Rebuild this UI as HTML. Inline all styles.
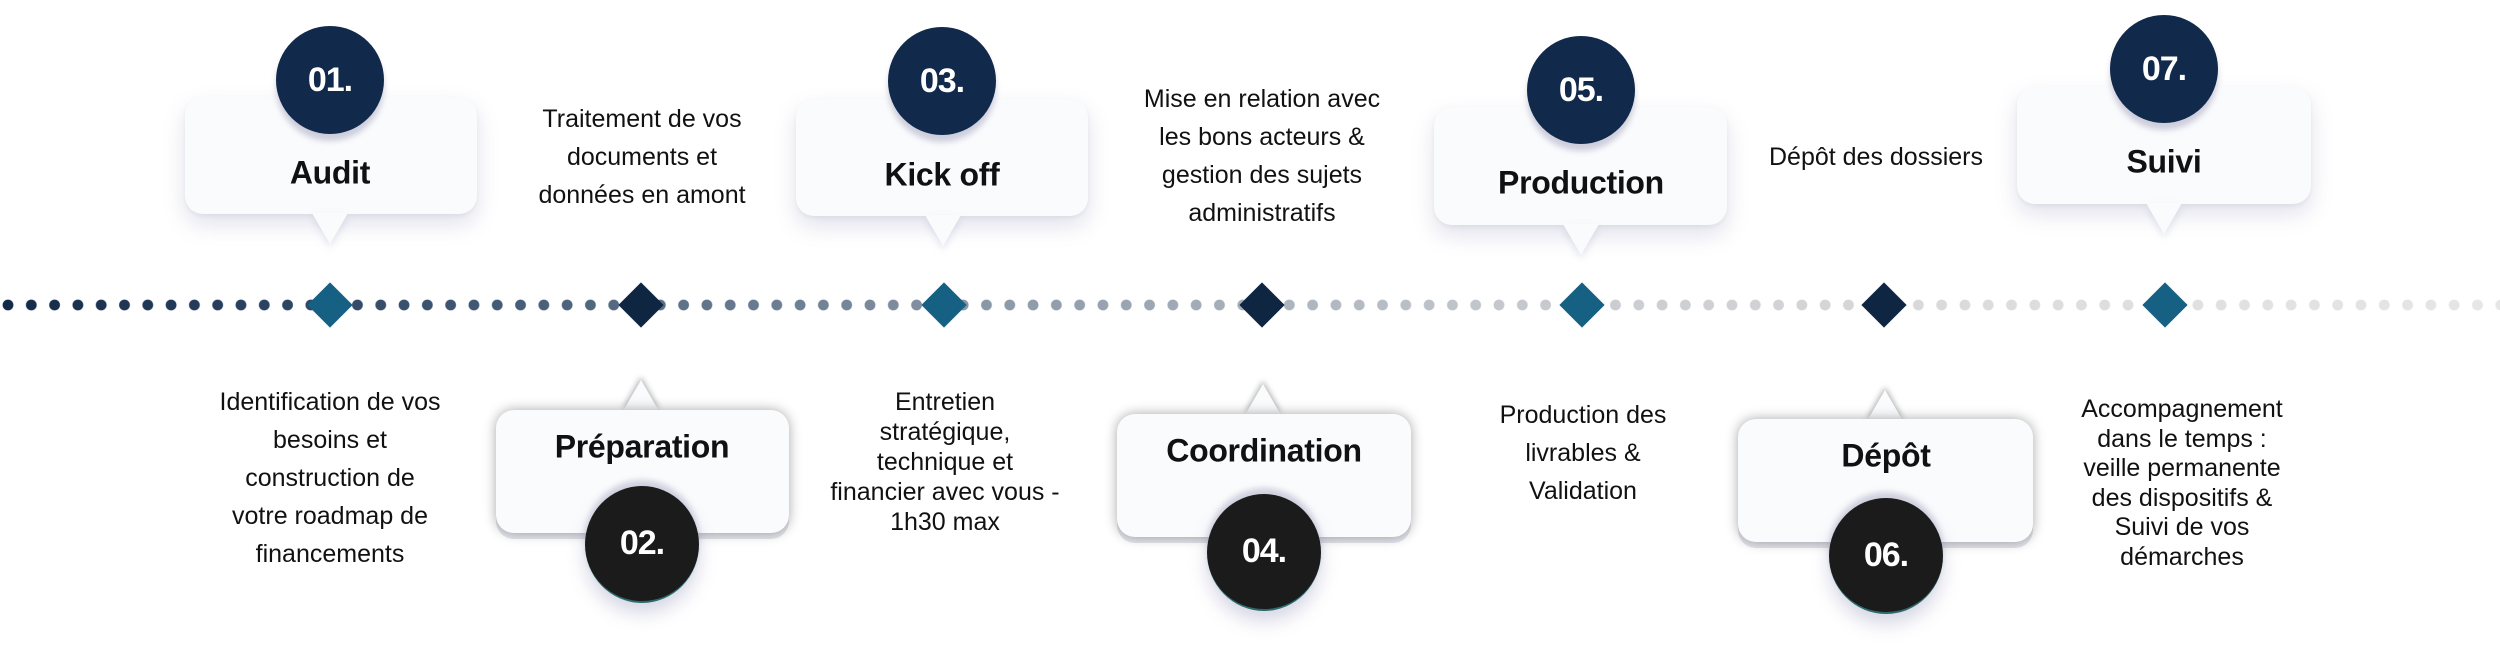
<!DOCTYPE html>
<html><head><meta charset="utf-8"><style>
*{margin:0;padding:0;box-sizing:border-box}
body{width:2500px;height:654px;background:#fff;position:relative;overflow:hidden;font-family:"Liberation Sans",sans-serif;color:#111}
.dots{position:absolute;left:2px;top:299px;width:2498px;height:12px;
background:linear-gradient(to right,#122a48 0%,#3d5571 18%,#8c99a8 40%,#c4c8ce 60%,#dcdcdc 80%,#e6e6e6 100%);
-webkit-mask-image:radial-gradient(circle at 6px 6px,#000 5px,transparent 5.8px);-webkit-mask-size:23.3px 12px;-webkit-mask-repeat:repeat-x;}
.dia{position:absolute;width:32px;height:32px;transform:translate(-50%,-50%) rotate(45deg);top:305px}
.t{background:#166083}.n{background:#0f2643}
.box{position:absolute;background:#fafbfd;border-radius:18px}
.top{box-shadow:0 10px 22px rgba(120,120,170,.22),0 2px 4px rgba(0,0,0,.05)}
.bot{box-shadow:0 0 12px rgba(0,0,0,.35),0 6px 0 #e4e4ec}
.ptr{position:absolute;width:0;height:0;border-left:18px solid transparent;border-right:18px solid transparent}
.pd{border-top:31px solid #fafbfd;filter:drop-shadow(0 4px 4px rgba(120,120,170,.2))}
.pu{border-bottom:31px solid #fafbfd;filter:drop-shadow(0 -3px 3px rgba(0,0,0,.3))}
.lbl{position:absolute;font-weight:bold;font-size:32px;text-align:center;transform:translate(-50%,-50%);white-space:nowrap;letter-spacing:-0.3px}
.c{position:absolute;border-radius:50%;color:#fff;font-weight:bold;font-size:34px;display:flex;align-items:center;justify-content:center;letter-spacing:-1px}
.ct{background:#11294a;box-shadow:0 7px 6px rgba(150,150,180,.45)}
.cb{background:#1b1b1b;border-bottom:2px solid #2a6a6a;box-shadow:0 -6px 6px rgba(150,150,180,.4),0 10px 18px rgba(120,120,170,.3)}
.tx{position:absolute;font-size:25px;text-align:center;transform:translateX(-50%);white-space:nowrap;color:#111}
</style></head><body>
<div class="dots"></div>
<div class="dia t" style="left:330px"></div>
<div class="dia n" style="left:641px"></div>
<div class="dia t" style="left:944px"></div>
<div class="dia n" style="left:1262px"></div>
<div class="dia t" style="left:1582px"></div>
<div class="dia n" style="left:1884px"></div>
<div class="dia t" style="left:2165px"></div>

<div class="box top" style="left:185px;top:97px;width:292px;height:117px"></div>
<div class="ptr pd" style="left:312px;top:213px"></div>
<div class="lbl" style="left:330px;top:173px">Audit</div>
<div class="c ct" style="left:276px;top:26px;width:108px;height:108px">01.</div>

<div class="box top" style="left:796px;top:99px;width:292px;height:117px"></div>
<div class="ptr pd" style="left:925px;top:215px"></div>
<div class="lbl" style="left:942px;top:175px">Kick off</div>
<div class="c ct" style="left:888px;top:27px;width:108px;height:108px">03.</div>

<div class="box top" style="left:1434px;top:107px;width:293px;height:118px"></div>
<div class="ptr pd" style="left:1563px;top:224px"></div>
<div class="lbl" style="left:1581px;top:183px">Production</div>
<div class="c ct" style="left:1527px;top:36px;width:108px;height:108px">05.</div>

<div class="box top" style="left:2017px;top:87px;width:294px;height:117px"></div>
<div class="ptr pd" style="left:2146px;top:203px"></div>
<div class="lbl" style="left:2164px;top:162px">Suivi</div>
<div class="c ct" style="left:2110px;top:15px;width:108px;height:108px">07.</div>

<div class="ptr pu" style="left:623px;top:380px"></div>
<div class="box bot" style="left:496px;top:410px;width:293px;height:123px"></div>
<div class="lbl" style="left:642px;top:447px">Préparation</div>
<div class="c cb" style="left:585px;top:486px;width:114px;height:117px">02.</div>

<div class="ptr pu" style="left:1245px;top:384px"></div>
<div class="box bot" style="left:1117px;top:414px;width:294px;height:123px"></div>
<div class="lbl" style="left:1264px;top:451px">Coordination</div>
<div class="c cb" style="left:1207px;top:494px;width:114px;height:117px">04.</div>

<div class="ptr pu" style="left:1867px;top:390px"></div>
<div class="box bot" style="left:1738px;top:419px;width:295px;height:123px"></div>
<div class="lbl" style="left:1886px;top:456px">Dépôt</div>
<div class="c cb" style="left:1829px;top:498px;width:114px;height:116px">06.</div>

<div class="tx" style="left:642px;top:100px;line-height:38px">Traitement de vos<br>documents et<br>données en amont</div>
<div class="tx" style="left:330px;top:383px;line-height:38px">Identification de vos<br>besoins et<br>construction de<br>votre roadmap de<br>financements</div>
<div class="tx" style="left:945px;top:387px;line-height:30px">Entretien<br>stratégique,<br>technique et<br>financier avec vous -<br>1h30 max</div>
<div class="tx" style="left:1262px;top:80px;line-height:38px">Mise en relation avec<br>les bons acteurs &amp;<br>gestion des sujets<br>administratifs</div>
<div class="tx" style="left:1583px;top:396px;line-height:38px">Production des<br>livrables &amp;<br>Validation</div>
<div class="tx" style="left:1876px;top:141px;line-height:32px">Dépôt des dossiers</div>
<div class="tx" style="left:2182px;top:395px;line-height:29.5px">Accompagnement<br>dans le temps :<br>veille permanente<br>des dispositifs &amp;<br>Suivi de vos<br>démarches</div>
</body></html>
